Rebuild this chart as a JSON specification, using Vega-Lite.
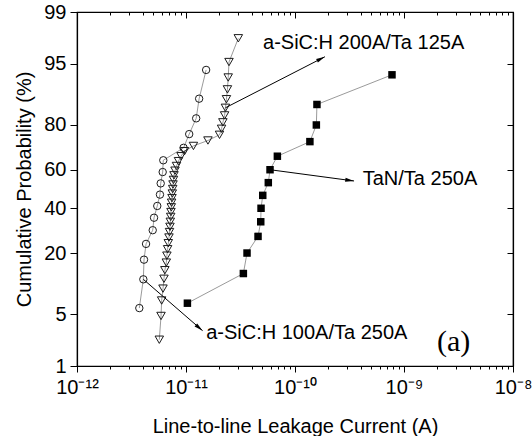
{
  "$schema": "https://vega.github.io/schema/vega-lite/v6.json",
  "description": "Cumulative probability (normal probability scale) of line-to-line leakage current for three cap/barrier stacks.",
  "width": 436,
  "height": 354,
  "autosize": {"type": "none"},
  "padding": {"left": 77, "top": 12, "right": 19, "bottom": 70},
  "background": "white",
  "config": {
    "view": {"stroke": "black", "strokeWidth": 1.2},
    "font": "Liberation Sans",
    "axis": {
      "grid": false,
      "domainColor": "black",
      "domainWidth": 1.2,
      "tickColor": "black",
      "tickWidth": 1,
      "labelColor": "black",
      "titleColor": "black",
      "labelFont": "Liberation Sans",
      "titleFont": "Liberation Sans",
      "labelFontSize": 20,
      "titleFontSize": 20,
      "titleFontWeight": "normal",
      "labelFlush": false,
      "labelOverlap": false
    }
  },
  "datasets": {
    "leakage": [
      {"series": "a-SiC:H 100A/Ta 250A", "current": 3.73e-12, "p": 5.88},
      {"series": "a-SiC:H 100A/Ta 250A", "current": 4.06e-12, "p": 11.76},
      {"series": "a-SiC:H 100A/Ta 250A", "current": 4.12e-12, "p": 17.65},
      {"series": "a-SiC:H 100A/Ta 250A", "current": 4.30e-12, "p": 23.53},
      {"series": "a-SiC:H 100A/Ta 250A", "current": 4.95e-12, "p": 29.41},
      {"series": "a-SiC:H 100A/Ta 250A", "current": 5.09e-12, "p": 35.29},
      {"series": "a-SiC:H 100A/Ta 250A", "current": 5.45e-12, "p": 41.18},
      {"series": "a-SiC:H 100A/Ta 250A", "current": 5.77e-12, "p": 47.06},
      {"series": "a-SiC:H 100A/Ta 250A", "current": 5.86e-12, "p": 52.94},
      {"series": "a-SiC:H 100A/Ta 250A", "current": 6.11e-12, "p": 58.82},
      {"series": "a-SiC:H 100A/Ta 250A", "current": 6.19e-12, "p": 64.71},
      {"series": "a-SiC:H 100A/Ta 250A", "current": 9.5e-12, "p": 70.59},
      {"series": "a-SiC:H 100A/Ta 250A", "current": 1.07e-11, "p": 76.47},
      {"series": "a-SiC:H 100A/Ta 250A", "current": 1.24e-11, "p": 82.35},
      {"series": "a-SiC:H 100A/Ta 250A", "current": 1.32e-11, "p": 88.24},
      {"series": "a-SiC:H 100A/Ta 250A", "current": 1.53e-11, "p": 94.12},

      {"series": "a-SiC:H 200A/Ta 125A", "current": 5.69e-12, "p": 2.38},
      {"series": "a-SiC:H 200A/Ta 125A", "current": 5.90e-12, "p": 4.76},
      {"series": "a-SiC:H 200A/Ta 125A", "current": 5.98e-12, "p": 7.14},
      {"series": "a-SiC:H 200A/Ta 125A", "current": 6.15e-12, "p": 9.52},
      {"series": "a-SiC:H 200A/Ta 125A", "current": 6.28e-12, "p": 11.90},
      {"series": "a-SiC:H 200A/Ta 125A", "current": 6.40e-12, "p": 14.29},
      {"series": "a-SiC:H 200A/Ta 125A", "current": 6.60e-12, "p": 16.67},
      {"series": "a-SiC:H 200A/Ta 125A", "current": 6.68e-12, "p": 19.05},
      {"series": "a-SiC:H 200A/Ta 125A", "current": 6.78e-12, "p": 21.43},
      {"series": "a-SiC:H 200A/Ta 125A", "current": 6.88e-12, "p": 23.81},
      {"series": "a-SiC:H 200A/Ta 125A", "current": 6.98e-12, "p": 26.19},
      {"series": "a-SiC:H 200A/Ta 125A", "current": 7.06e-12, "p": 28.57},
      {"series": "a-SiC:H 200A/Ta 125A", "current": 7.13e-12, "p": 30.95},
      {"series": "a-SiC:H 200A/Ta 125A", "current": 7.18e-12, "p": 33.33},
      {"series": "a-SiC:H 200A/Ta 125A", "current": 7.24e-12, "p": 35.71},
      {"series": "a-SiC:H 200A/Ta 125A", "current": 7.28e-12, "p": 38.10},
      {"series": "a-SiC:H 200A/Ta 125A", "current": 7.33e-12, "p": 40.48},
      {"series": "a-SiC:H 200A/Ta 125A", "current": 7.38e-12, "p": 42.86},
      {"series": "a-SiC:H 200A/Ta 125A", "current": 7.44e-12, "p": 45.24},
      {"series": "a-SiC:H 200A/Ta 125A", "current": 7.49e-12, "p": 47.62},
      {"series": "a-SiC:H 200A/Ta 125A", "current": 7.55e-12, "p": 50.00},
      {"series": "a-SiC:H 200A/Ta 125A", "current": 7.60e-12, "p": 52.38},
      {"series": "a-SiC:H 200A/Ta 125A", "current": 7.68e-12, "p": 54.76},
      {"series": "a-SiC:H 200A/Ta 125A", "current": 7.76e-12, "p": 57.14},
      {"series": "a-SiC:H 200A/Ta 125A", "current": 7.93e-12, "p": 59.52},
      {"series": "a-SiC:H 200A/Ta 125A", "current": 8.18e-12, "p": 61.90},
      {"series": "a-SiC:H 200A/Ta 125A", "current": 8.53e-12, "p": 64.29},
      {"series": "a-SiC:H 200A/Ta 125A", "current": 9.00e-12, "p": 66.67},
      {"series": "a-SiC:H 200A/Ta 125A", "current": 9.69e-12, "p": 69.05},
      {"series": "a-SiC:H 200A/Ta 125A", "current": 1.17e-11, "p": 71.43},
      {"series": "a-SiC:H 200A/Ta 125A", "current": 1.59e-11, "p": 73.81},
      {"series": "a-SiC:H 200A/Ta 125A", "current": 2.03e-11, "p": 76.19},
      {"series": "a-SiC:H 200A/Ta 125A", "current": 2.12e-11, "p": 78.57},
      {"series": "a-SiC:H 200A/Ta 125A", "current": 2.18e-11, "p": 80.95},
      {"series": "a-SiC:H 200A/Ta 125A", "current": 2.26e-11, "p": 83.33},
      {"series": "a-SiC:H 200A/Ta 125A", "current": 2.30e-11, "p": 85.71},
      {"series": "a-SiC:H 200A/Ta 125A", "current": 2.35e-11, "p": 88.10},
      {"series": "a-SiC:H 200A/Ta 125A", "current": 2.40e-11, "p": 90.48},
      {"series": "a-SiC:H 200A/Ta 125A", "current": 2.44e-11, "p": 92.86},
      {"series": "a-SiC:H 200A/Ta 125A", "current": 2.48e-11, "p": 95.24},
      {"series": "a-SiC:H 200A/Ta 125A", "current": 3.02e-11, "p": 97.62},

      {"series": "TaN/Ta 250A", "current": 1.03e-11, "p": 6.67},
      {"series": "TaN/Ta 250A", "current": 3.36e-11, "p": 13.33},
      {"series": "TaN/Ta 250A", "current": 3.63e-11, "p": 20.00},
      {"series": "TaN/Ta 250A", "current": 4.58e-11, "p": 26.67},
      {"series": "TaN/Ta 250A", "current": 4.85e-11, "p": 33.33},
      {"series": "TaN/Ta 250A", "current": 4.88e-11, "p": 40.00},
      {"series": "TaN/Ta 250A", "current": 5.06e-11, "p": 46.67},
      {"series": "TaN/Ta 250A", "current": 5.69e-11, "p": 53.33},
      {"series": "TaN/Ta 250A", "current": 5.90e-11, "p": 60.00},
      {"series": "TaN/Ta 250A", "current": 6.89e-11, "p": 66.67},
      {"series": "TaN/Ta 250A", "current": 1.37e-10, "p": 73.33},
      {"series": "TaN/Ta 250A", "current": 1.57e-10, "p": 80.00},
      {"series": "TaN/Ta 250A", "current": 1.59e-10, "p": 86.67},
      {"series": "TaN/Ta 250A", "current": 7.76e-10, "p": 93.33}
    ],
    "notes": [
      {"label": "a-SiC:H 200A/Ta 125A", "current": 5.09e-11, "p": 97.29},
      {"label": "TaN/Ta 250A", "current": 4.18e-10, "p": 55.12},
      {"label": "a-SiC:H 100A/Ta 250A", "current": 1.53e-11, "p": 2.90}
    ],
    "arrows": [
      {"note": "a-SiC:H 200A/Ta 125A", "current": 2.30e-11, "p": 85.71, "current_end": 1.88e-10, "p_end": 95.89},
      {"note": "TaN/Ta 250A", "current": 5.90e-11, "p": 60.00, "current_end": 3.48e-10, "p_end": 54.2},
      {"note": "a-SiC:H 100A/Ta 250A", "current": 4.06e-12, "p": 11.76, "current_end": 1.42e-11, "p_end": 3.13}
    ]
  },
  "resolve": {"axis": {"x": "independent", "y": "independent"}},
  "layer": [
    {
      "data": {"name": "leakage"},
      "transform": [{"calculate": "quantileNormal(datum.p / 100)", "as": "z"}],
      "mark": {"type": "line", "stroke": "#808080", "strokeWidth": 0.8},
      "encoding": {
        "x": {
          "field": "current", "type": "quantitative",
          "scale": {"type": "log", "domain": [1e-12, 1e-8], "nice": false},
          "axis": {
            "orient": "bottom",
            "values": [1e-12, 2e-12, 3e-12, 4e-12, 5e-12, 6e-12, 7e-12, 8e-12, 9e-12,
                       1e-11, 2e-11, 3e-11, 4e-11, 5e-11, 6e-11, 7e-11, 8e-11, 9e-11,
                       1e-10, 2e-10, 3e-10, 4e-10, 5e-10, 6e-10, 7e-10, 8e-10, 9e-10,
                       1e-9, 2e-9, 3e-9, 4e-9, 5e-9, 6e-9, 7e-9, 8e-9, 9e-9, 1e-8],
            "labelExpr": "abs(log(datum.value) / LN10 - round(log(datum.value) / LN10)) > 0.01 ? '' : round(log(datum.value) / LN10) == -12 ? '10⁻¹²' : round(log(datum.value) / LN10) == -11 ? '10⁻¹¹' : round(log(datum.value) / LN10) == -10 ? '10⁻¹⁰' : round(log(datum.value) / LN10) == -9 ? '10⁻⁹' : '10⁻⁸'",
            "tickSize": {"condition": {"test": "abs(log(datum.value) / LN10 - round(log(datum.value) / LN10)) < 0.01", "value": 6}, "value": 3},
            "labelPadding": 5,
            "title": "Line-to-line Leakage Current (A)",
            "titlePadding": 19
          }
        },
        "y": {
          "field": "z", "type": "quantitative",
          "scale": {"domain": [-2.326348, 2.326348], "nice": false, "zero": false},
          "axis": {
            "orient": "left",
            "values": [-2.326348, -1.644854, -0.841621, -0.253347, 0.253347, 0.841621, 1.644854, 2.326348],
            "labelExpr": "'' + round(cumulativeNormal(datum.value) * 100)",
            "tickSize": 7,
            "labelPadding": 4,
            "title": "Cumulative Probability (%)",
            "titlePadding": 9
          }
        },
        "detail": {"field": "series"},
        "order": {"field": "p", "type": "quantitative"}
      }
    },
    {
      "data": {"name": "leakage"},
      "transform": [
        {"filter": "datum.series == 'a-SiC:H 100A/Ta 250A'"},
        {"calculate": "quantileNormal(datum.p / 100)", "as": "z"}
      ],
      "mark": {"type": "point", "shape": "circle", "filled": false, "stroke": "#1a1a1a", "strokeWidth": 1, "size": 55, "opacity": 1},
      "encoding": {
        "x": {
          "field": "current", "type": "quantitative",
          "scale": {"type": "log", "domain": [1e-12, 1e-8], "nice": false},
          "axis": {
            "orient": "top",
            "values": [1e-12, 2e-12, 3e-12, 4e-12, 5e-12, 6e-12, 7e-12, 8e-12, 9e-12,
                       1e-11, 2e-11, 3e-11, 4e-11, 5e-11, 6e-11, 7e-11, 8e-11, 9e-11,
                       1e-10, 2e-10, 3e-10, 4e-10, 5e-10, 6e-10, 7e-10, 8e-10, 9e-10,
                       1e-9, 2e-9, 3e-9, 4e-9, 5e-9, 6e-9, 7e-9, 8e-9, 9e-9, 1e-8],
            "labels": false,
            "title": null,
            "tickSize": {"condition": {"test": "abs(log(datum.value) / LN10 - round(log(datum.value) / LN10)) < 0.01", "value": -6}, "value": -3}
          }
        },
        "y": {
          "field": "z", "type": "quantitative",
          "scale": {"domain": [-2.326348, 2.326348], "nice": false, "zero": false},
          "axis": {
            "orient": "right",
            "values": [-2.326348, -1.644854, -0.841621, -0.253347, 0.253347, 0.841621, 1.644854, 2.326348],
            "labels": false,
            "title": null,
            "tickSize": -6
          }
        }
      }
    },
    {
      "data": {"name": "leakage"},
      "transform": [
        {"filter": "datum.series == 'a-SiC:H 200A/Ta 125A'"},
        {"calculate": "quantileNormal(datum.p / 100)", "as": "z"}
      ],
      "mark": {"type": "point", "shape": "triangle-down", "filled": false, "stroke": "#1a1a1a", "strokeWidth": 1, "size": 72, "opacity": 1},
      "encoding": {
        "x": {"field": "current", "type": "quantitative", "scale": {"type": "log", "domain": [1e-12, 1e-8], "nice": false}, "axis": null},
        "y": {"field": "z", "type": "quantitative", "scale": {"domain": [-2.326348, 2.326348], "nice": false, "zero": false}, "axis": null}
      }
    },
    {
      "data": {"name": "leakage"},
      "transform": [
        {"filter": "datum.series == 'TaN/Ta 250A'"},
        {"calculate": "quantileNormal(datum.p / 100)", "as": "z"}
      ],
      "mark": {"type": "point", "shape": "square", "filled": true, "color": "black", "size": 56, "opacity": 1},
      "encoding": {
        "x": {"field": "current", "type": "quantitative", "scale": {"type": "log", "domain": [1e-12, 1e-8], "nice": false}, "axis": null},
        "y": {"field": "z", "type": "quantitative", "scale": {"domain": [-2.326348, 2.326348], "nice": false, "zero": false}, "axis": null}
      }
    },
    {
      "data": {"name": "arrows"},
      "transform": [
        {"calculate": "quantileNormal(datum.p / 100)", "as": "z"},
        {"calculate": "quantileNormal(datum.p_end / 100)", "as": "z_end"}
      ],
      "mark": {"type": "rule", "color": "black", "strokeWidth": 1},
      "encoding": {
        "x": {"field": "current", "type": "quantitative", "scale": {"type": "log", "domain": [1e-12, 1e-8], "nice": false}, "axis": null},
        "y": {"field": "z", "type": "quantitative", "scale": {"domain": [-2.326348, 2.326348], "nice": false, "zero": false}, "axis": null},
        "x2": {"field": "current_end"},
        "y2": {"field": "z_end"}
      }
    },
    {
      "data": {"name": "arrows"},
      "transform": [
        {"filter": "datum.note == 'a-SiC:H 200A/Ta 125A'"},
        {"calculate": "quantileNormal(datum.p_end / 100)", "as": "z_end"}
      ],
      "mark": {"type": "point", "shape": "M0,0L0.5,2.2L-0.5,2.2Z", "filled": true, "color": "black", "size": 64, "opacity": 1, "angle": 63.4},
      "encoding": {
        "x": {"field": "current_end", "type": "quantitative", "scale": {"type": "log", "domain": [1e-12, 1e-8], "nice": false}, "axis": null},
        "y": {"field": "z_end", "type": "quantitative", "scale": {"domain": [-2.326348, 2.326348], "nice": false, "zero": false}, "axis": null}
      }
    },
    {
      "data": {"name": "arrows"},
      "transform": [
        {"filter": "datum.note == 'TaN/Ta 250A'"},
        {"calculate": "quantileNormal(datum.p_end / 100)", "as": "z_end"}
      ],
      "mark": {"type": "point", "shape": "M0,0L0.5,2.2L-0.5,2.2Z", "filled": true, "color": "black", "size": 64, "opacity": 1, "angle": 97.9},
      "encoding": {
        "x": {"field": "current_end", "type": "quantitative", "scale": {"type": "log", "domain": [1e-12, 1e-8], "nice": false}, "axis": null},
        "y": {"field": "z_end", "type": "quantitative", "scale": {"domain": [-2.326348, 2.326348], "nice": false, "zero": false}, "axis": null}
      }
    },
    {
      "data": {"name": "arrows"},
      "transform": [
        {"filter": "datum.note == 'a-SiC:H 100A/Ta 250A'"},
        {"calculate": "quantileNormal(datum.p_end / 100)", "as": "z_end"}
      ],
      "mark": {"type": "point", "shape": "M0,0L0.5,2.2L-0.5,2.2Z", "filled": true, "color": "black", "size": 64, "opacity": 1, "angle": 130.2},
      "encoding": {
        "x": {"field": "current_end", "type": "quantitative", "scale": {"type": "log", "domain": [1e-12, 1e-8], "nice": false}, "axis": null},
        "y": {"field": "z_end", "type": "quantitative", "scale": {"domain": [-2.326348, 2.326348], "nice": false, "zero": false}, "axis": null}
      }
    },
    {
      "data": {"name": "notes"},
      "transform": [{"calculate": "quantileNormal(datum.p / 100)", "as": "z"}],
      "mark": {"type": "text", "align": "left", "baseline": "middle", "font": "Liberation Sans", "fontSize": 20, "color": "black"},
      "encoding": {
        "x": {"field": "current", "type": "quantitative", "scale": {"type": "log", "domain": [1e-12, 1e-8], "nice": false}, "axis": null},
        "y": {"field": "z", "type": "quantitative", "scale": {"domain": [-2.326348, 2.326348], "nice": false, "zero": false}, "axis": null},
        "text": {"field": "label"}
      }
    },
    {
      "data": {"values": [{"panel": "(a)", "current": 2.01e-9, "p": 2.22}]},
      "transform": [{"calculate": "quantileNormal(datum.p / 100)", "as": "z"}],
      "mark": {"type": "text", "align": "left", "baseline": "middle", "font": "Liberation Serif", "fontSize": 30, "color": "black"},
      "encoding": {
        "x": {"field": "current", "type": "quantitative", "scale": {"type": "log", "domain": [1e-12, 1e-8], "nice": false}, "axis": null},
        "y": {"field": "z", "type": "quantitative", "scale": {"domain": [-2.326348, 2.326348], "nice": false, "zero": false}, "axis": null},
        "text": {"field": "panel"}
      }
    }
  ]
}
